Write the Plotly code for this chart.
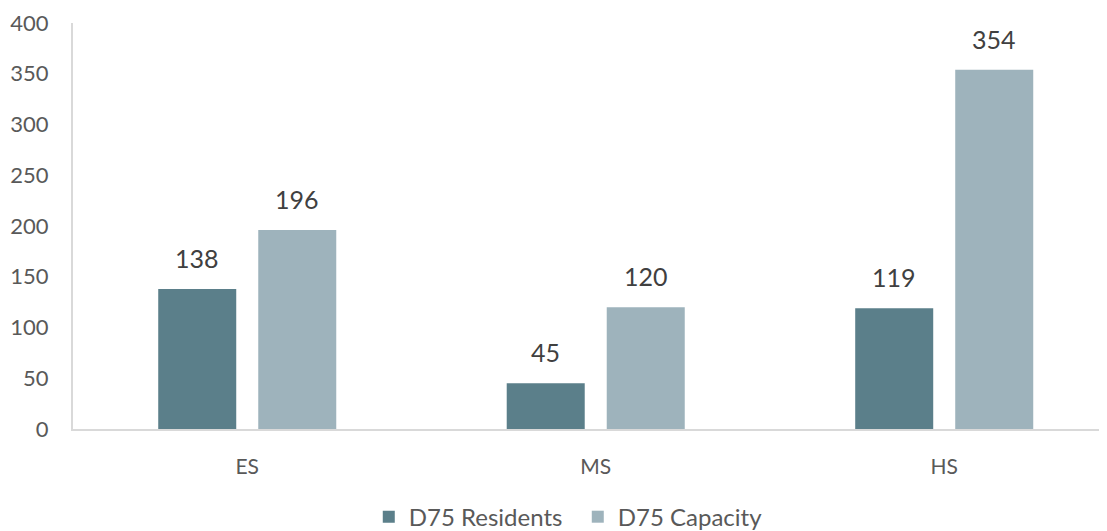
import plotly.graph_objects as go

categories = ["ES", "MS", "HS"]
residents = [138, 45, 119]
capacity = [196, 120, 354]
series_names = ["D75 Residents", "D75 Capacity"]
y_ticks = [0, 50, 100, 150, 200, 250, 300, 350, 400]

dark = "#5B7F8A"
light = "#9EB3BC"
text_color = "#595959"
font_family = "Lato, 'Open Sans', sans-serif"

fig = go.Figure()
fig.add_trace(go.Bar(x=categories, y=residents, name=series_names[0],
                     marker=dict(color=dark, line=dict(width=0))))
fig.add_trace(go.Bar(x=categories, y=capacity, name=series_names[1],
                     marker=dict(color=light, line=dict(width=0))))

annotations = []
for vals, shift in [(residents, -50), (capacity, 50)]:
    for c, v in zip(categories, vals):
        annotations.append(dict(x=c, y=v, text=str(v), showarrow=False,
                                xref="x", yref="y", xshift=shift, yshift=14,
                                yanchor="bottom",
                                font=dict(size=25, color="#404040", family=font_family)))

fig.update_layout(
    width=1099, height=523,
    margin=dict(l=65, r=7, t=15, b=102, autoexpand=False),
    paper_bgcolor="white", plot_bgcolor="white",
    barmode="group", bargap=0.426, bargroupgap=0.22,
    font=dict(family=font_family, color=text_color, size=21),
    annotations=annotations,
    showlegend=True,
    legend=dict(orientation="h", x=0.288, xanchor="left", y=-0.217, yanchor="middle",
                font=dict(size=24, color=text_color), itemwidth=30, traceorder="normal",
                entrywidth=164, entrywidthmode="pixels"),
)
fig.update_xaxes(range=[-0.5, 2.447], showline=True, linecolor="#D9D9D9", linewidth=2,
                 showgrid=False, ticks="", ticklabelstandoff=18, automargin=False,
                 tickfont=dict(size=21, color=text_color))
fig.update_yaxes(range=[0, 400], tickvals=y_ticks, showline=True, linecolor="#D9D9D9",
                 linewidth=2, showgrid=False, zeroline=False, ticks="", automargin=False,
                 ticklabelstandoff=18, tickfont=dict(size=22, color=text_color))

fig.write_html("out.html")
